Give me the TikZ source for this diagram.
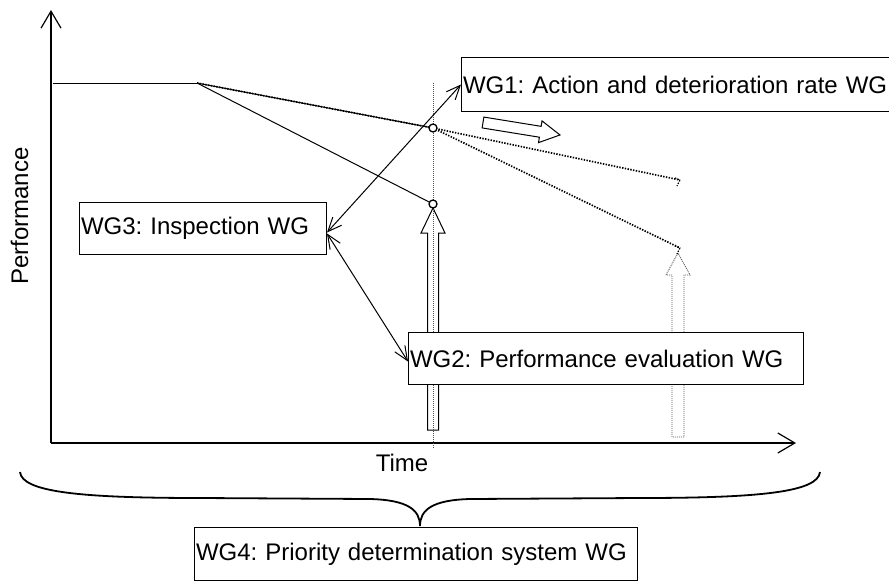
\documentclass[tikz,border=0pt]{standalone}
\usepackage{fontspec}
\setmainfont{Liberation Sans}
\usetikzlibrary{arrows.meta,calc}
\newcommand{\wgfont}{\fontsize{24}{28}\selectfont}
\begin{document}
\frenchspacing
\begin{tikzpicture}[x=1pt,y=-1pt,
  wgbox/.style={draw, line width=1pt, fill=white, inner xsep=1.5pt, inner ysep=0pt, align=left, anchor=north west, font=\wgfont},
  axis/.style={line width=1.2pt, -{Straight Barb[length=17pt,width=20pt,line width=1.2pt]}},
  link/.style={line width=1pt, {Straight Barb[length=14pt,width=12pt]}-{Straight Barb[length=14pt,width=12pt]}},
  curve/.style={line width=1pt},
  dots/.style={line width=1.7pt, dash pattern=on 1.4pt off 1.4pt},
  guide/.style={line width=0.7pt, dash pattern=on 0.8pt off 1.2pt, gray!60!black},
  block/.style={draw, line width=1pt, fill=white, line join=miter},
  dblock/.style={draw=gray!70!black, line width=0.9pt, dash pattern=on 1pt off 1pt},
  pmark/.style={draw, line width=1.3pt, fill=white},
  brace/.style={line width=1.8pt}
]
\useasboundingbox (0,0) rectangle (889,581);

% axes
\coordinate (o) at (51,443);
\coordinate (ytop) at (51,10);
\coordinate (xend) at (796,443);
\draw[axis] (o) -- (ytop);
\draw[axis] (o) -- (xend);

% points
\coordinate (p0) at (53,83);
\coordinate (p1) at (197,83);
\coordinate (c1) at (433,128);
\coordinate (c2) at (433,204);
\coordinate (e1) at (680,180);
\coordinate (e2) at (680,248);
\coordinate (g1) at (433,83);
\coordinate (g2) at (433,448);

% block arrows
\draw[block] (427.5,430) -- (427.5,233) -- (421,233) -- (433,208) -- (445,233) -- (438.5,233) -- (438.5,430) -- cycle;
\draw[dblock] (672,437) -- (672,275) -- (666,275) -- (678,253) -- (690,275) -- (684,275) -- (684,437) -- cycle;
\draw[block, shift={(483,122.5)}, rotate=-9.2] (0,5.5) -- (58,5.5) -- (58,11) -- (78,0) -- (58,-11) -- (58,-5.5) -- (0,-5.5) -- cycle;

% guide line
\draw[guide] (g1) -- (g2);

% performance curves
\draw[curve] (p0) -- (p1);
\draw[curve] (p1) -- (c1);
\draw[dots] (p1) -- (c1);
\draw[curve] (p1) -- (c2);
\draw[dots] (c1) -- (e1);
\draw[dots] (c1) -- (e2);
\draw[dots, line width=1.2pt] (675,178) -- (e1) -- (677,186);
\draw[dots, line width=1.2pt] (675,246) -- (e2) -- (677,254);
\draw[pmark] (c1) circle[radius=4pt];
\draw[pmark] (c2) circle[radius=4pt];

% labels
\node[font=\wgfont, rotate=90, anchor=base] (perf) at (28,216) {Performance};
\node[font=\wgfont, anchor=base] (time) at (402,471) {Time};

% boxes
\node[wgbox, text width=440pt, minimum height=54pt] (wg1) at (461,57) {WG1: Action and deterioration rate WG};
\node[wgbox, text width=392pt, minimum height=52pt] (wg2) at (408,332) {WG2: Performance evaluation WG};
\node[wgbox, text width=244pt, minimum height=52pt] (wg3) at (79,202) {WG3: Inspection WG};
\node[wgbox, text width=440pt, minimum height=53pt] (wg4) at (194,527) {WG4: Priority determination system WG};

% links
\draw[link] ([yshift=-4pt]wg3.east) -- (wg1.west);
\draw[link] ([yshift=-5pt]wg3.east) -- ([yshift=-3pt]wg2.west);

% brace
\coordinate (bl) at (20,472);
\coordinate (br) at (820,472);
\coordinate (bt) at (420,526);
\draw[brace] (bl) .. controls (22,492) and (80,498) .. (200,498) -- (370,499) .. controls (408,500) and (420,510) .. (bt) .. controls (420,510) and (432,500) .. (470,499) -- (640,498) .. controls (760,498) and (818,492) .. (br);
\end{tikzpicture}
\end{document}
